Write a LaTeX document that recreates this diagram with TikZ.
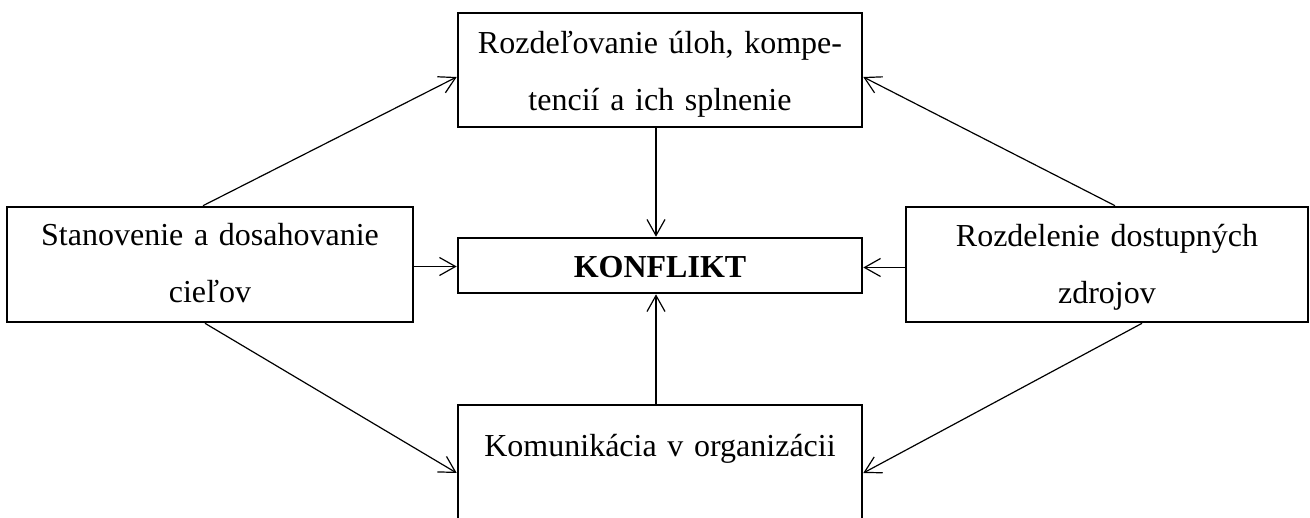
\documentclass[tikz,border=0pt]{standalone}
\usepackage{fontspec}
\setmainfont{Liberation Serif}
\usetikzlibrary{arrows.meta}

\tikzset{
  box/.style={draw, line width=2.6pt, rectangle, inner sep=0pt,
    align=center, font=\fontsize{32}{57}\selectfont},
  conn/.style={line width=1.2pt, -{Straight Barb[length=16pt,width=18pt,line width=1.2pt]}},
}

\begin{document}
\begin{tikzpicture}[x=1pt,y=-1pt]
  \useasboundingbox (0,0) rectangle (1310,518);
  \clip (0,0) rectangle (1310,518);

  % central conflict box
  \node[box, minimum width=404pt, minimum height=55pt, text height=25pt, text depth=0pt]
    (konf) at (660,265.5) {\bfseries KONFLIKT};

  % upper box: tasks and competences
  \node[box, minimum width=404pt, minimum height=114pt, text width=400pt,
        text height=20pt, text depth=52pt]
    (ulohy) at (660,70) {Rozdeľovanie úloh, kompe-\\tencií a ich splnenie};

  % left box: goals
  \node[box, minimum width=406pt, minimum height=115pt, text width=400pt,
        text height=20pt, text depth=57pt]
    (ciele) at (210,264.5) {Stanovenie a dosahovanie\\cieľov};

  % right box: resources
  \node[box, minimum width=402pt, minimum height=115pt, text width=400pt,
        text height=20pt, text depth=55pt]
    (zdroje) at (1107,264.5) {Rozdelenie dostupných\\zdrojov};

  % lower box: communication (runs past the lower edge)
  \node[box, minimum width=404pt, minimum height=114pt, text width=400pt,
        text height=20pt, text depth=30pt]
    (komun) at (660,462) {Komunikácia v organizácii};

  % connectors into the conflict box
  \draw[conn] ([xshift=-4pt]ulohy.south) -- ([xshift=-4pt]ulohy.south |- konf.north);
  \draw[conn] ([xshift=-4pt]komun.north) -- ([xshift=-4pt]komun.north |- konf.south);
  \draw[conn] ([yshift=-2pt]ciele.east) -- ([yshift=-2pt]ciele.east -| konf.west);
  \draw[conn] ([yshift=-3pt]zdroje.west) -- ([yshift=-3pt]zdroje.west -| konf.east);

  % diagonal connectors
  \draw[conn] ([xshift=-7pt]ciele.north) -- ([yshift=-7pt]ulohy.west);
  \draw[conn] ([xshift=8pt]zdroje.north) -- ([yshift=-7pt]ulohy.east);
  \draw[conn] ([xshift=-5pt]ciele.south) -- ([yshift=-11pt]komun.west);
  \draw[conn] ([xshift=35pt]zdroje.south) -- ([yshift=-11pt]komun.east);
\end{tikzpicture}
\end{document}
